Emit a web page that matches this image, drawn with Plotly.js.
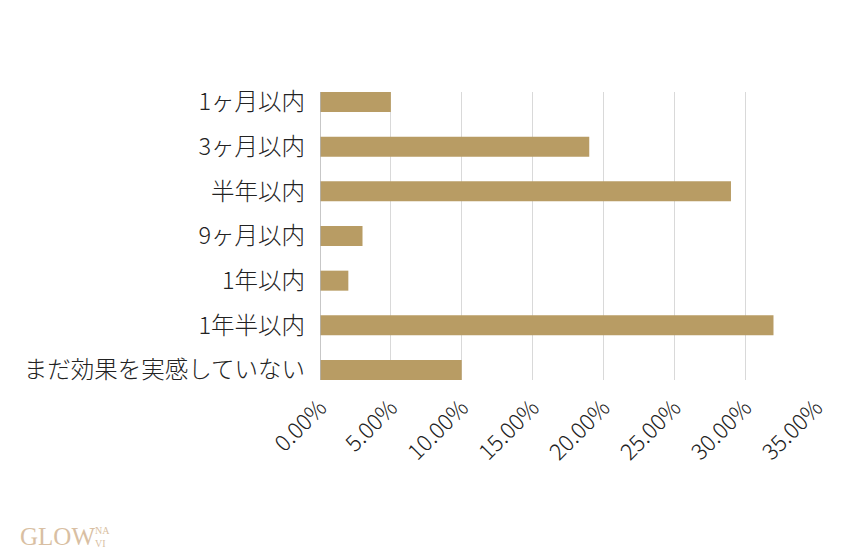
<!DOCTYPE html>
<html>
<head>
<meta charset="utf-8">
<script src="https://cdn.plot.ly/plotly-3.0.1.min.js"></script>
<style>
  html, body { margin: 0; padding: 0; background: #fff; }
  #chart { width: 850px; height: 560px; }
</style>
</head>
<body>
<div id="chart"></div>
<script>
const categories = [
    '1ヶ月以内',
    '3ヶ月以内',
    '半年以内',
    '9ヶ月以内',
    '1年以内',
    '1年半以内',
    'まだ効果を実感していない',
]
const shares = [5, 19, 29, 3, 2, 32, 10]
const tick_values = [0, 5, 10, 15, 20, 25, 30, 35]
const tick_labels = ['0.00%', '5.00%', '10.00%', '15.00%', '20.00%', '25.00%', '30.00%', '35.00%']

const font_family = '"Noto Sans CJK JP", "Noto Sans", sans-serif'
const logo_font = '"Liberation Serif", "DejaVu Serif", serif'
const bar_color = '#b89c64'

const trace = {
    type: 'bar',
    orientation: 'h',
    x: shares,
    y: categories,
    marker: {color: bar_color},
    width: 0.448,
    hoverinfo: 'none',
}

Plotly.newPlot('chart', [trace], {
    width: 850,
    height: 560,
    showlegend: false,
    paper_bgcolor: '#ffffff',
    plot_bgcolor: '#ffffff',
    margin: {t: 92, r: 34, b: 180, l: 320},
    font: {family: font_family, color: '#222222', size: 23},
    xaxis: {
        range: [0, 35],
        tickvals: tick_values,
        ticktext: tick_labels,
        tickangle: -45,
        tickfont: {size: 22.5, color: '#222222', weight: 300},
        ticklabelstandoff: 9,
        showgrid: true,
        gridcolor: '#d9d9d9',
        gridwidth: 1,
        zeroline: false,
        showline: false,
        ticks: '',
        fixedrange: true,
    },
    yaxis: {
        type: 'category',
        range: [6.224, -0.224],
        tickfont: {size: 23.5, color: '#222222', weight: 300},
        ticklabelstandoff: 14,
        showgrid: false,
        zeroline: false,
        showline: false,
        ticks: '',
        fixedrange: true,
    },
    shapes: [{
        type: 'line', xref: 'x', yref: 'paper',
        x0: 0, x1: 0, y0: 0, y1: 1,
        line: {color: '#b5b5b5', width: 1.5},
        layer: 'above',
    }],
    annotations: [
        {
            text: 'GLOW', xref: 'paper', yref: 'paper',
            x: -0.609, y: -0.545, xanchor: 'left', yanchor: 'middle',
            showarrow: false,
            font: {family: logo_font, size: 25, color: '#d9bfa3'},
        },
        {
            text: 'NA<br>VI', xref: 'paper', yref: 'paper',
            x: -0.458, y: -0.545, xanchor: 'left', yanchor: 'middle',
            showarrow: false, align: 'left',
            font: {family: logo_font, size: 10, color: '#d9bfa3'},
        },
    ],
}, {displayModeBar: false, staticPlot: true})
</script>
</body>
</html>
